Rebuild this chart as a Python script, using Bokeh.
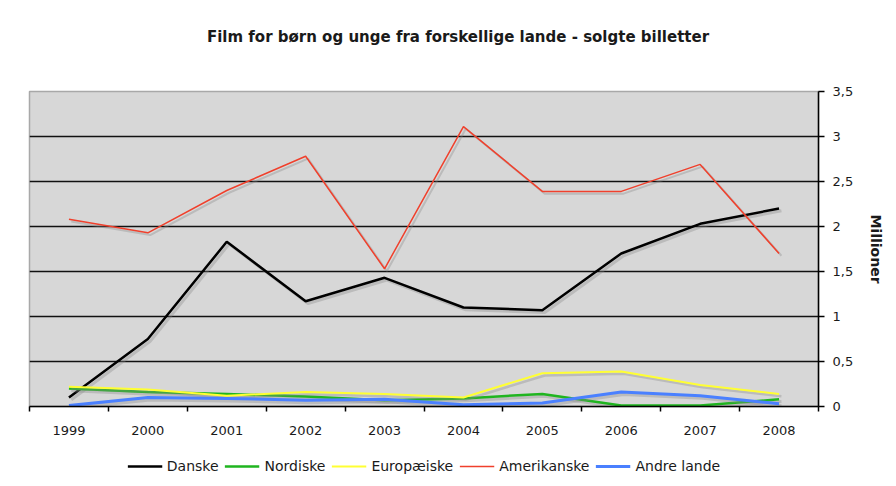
from bokeh.plotting import figure
from bokeh.layouts import column
from bokeh.models import FixedTicker, Legend, LegendItem, Range1d, ColumnDataSource, Label
from bokeh.transform import dodge
from bokeh.embed import file_html
from bokeh.resources import INLINE

title_text = "Film for børn og unge fra forskellige lande - solgte billetter"
years = ["1999", "2000", "2001", "2002", "2003", "2004", "2005", "2006", "2007", "2008"]

danske = [0.10, 0.75, 1.83, 1.17, 1.43, 1.10, 1.07, 1.70, 2.03, 2.20]
nordiske = [0.20, 0.16, 0.14, 0.11, 0.07, 0.09, 0.14, 0.01, 0.01, 0.08]
europaeiske = [0.22, 0.19, 0.12, 0.16, 0.14, 0.10, 0.37, 0.39, 0.24, 0.14]
amerikanske = [2.08, 1.93, 2.40, 2.78, 1.53, 3.11, 2.39, 2.39, 2.69, 1.70]
andre = [0.01, 0.10, 0.09, 0.07, 0.08, 0.02, 0.04, 0.16, 0.12, 0.03]

series_names = ["Danske", "Nordiske", "Europæiske", "Amerikanske", "Andre lande"]
series_colors = ["#000000", "#1fb51f", "#ffff33", "#f0402c", "#4a80ff"]
series_widths = [2.5, 2.5, 2, 1.5, 3]

y_ticks = [0, 0.5, 1, 1.5, 2, 2.5, 3, 3.5]
y_tick_labels = ["0", "0,5", "1", "1,5", "2", "2,5", "3", "3,5"]
y_label = "Millioner"

FONT = "DejaVu Sans"
TXT = "#1a1a1a"
L, FW, R = 29, 789, 78

xs = list(range(len(years)))
src = ColumnDataSource(dict(x=xs, danske=danske, nordiske=nordiske,
                            europaeiske=europaeiske, amerikanske=amerikanske,
                            andre=andre))
cols = ["danske", "nordiske", "europaeiske", "amerikanske", "andre"]


def blank_fig(fh, y_range):
    f = figure(frame_width=FW, frame_height=fh, output_backend="svg",
               toolbar_location=None, x_axis_location=None, y_axis_location=None,
               x_range=Range1d(0, 1), y_range=y_range,
               min_border_left=L, min_border_right=R,
               min_border_top=0, min_border_bottom=0)
    f.title = None
    f.grid.visible = False
    f.outline_line_color = None
    f.background_fill_color = "white"
    f.border_fill_color = "white"
    return f


# ---- title strip ----
p0 = blank_fig(83, Range1d(0, 1))
p0.add_layout(Label(x=428.5, y=47, x_units="screen", y_units="screen",
                    text=title_text, text_align="center", text_baseline="middle",
                    text_font=FONT, text_font_size="15px", text_font_style="bold",
                    text_color=TXT))

# ---- main chart ----
p = figure(frame_width=FW, frame_height=315, output_backend="svg",
           toolbar_location=None,
           x_range=Range1d(-0.5, len(years) - 0.5), y_range=Range1d(0, 3.5),
           y_axis_location="right", min_border_left=L, min_border_right=R,
           min_border_top=8, min_border_bottom=40)
p.title = None

p.background_fill_color = "#d7d7d7"
p.border_fill_color = "white"
p.outline_line_color = "#a8a8a8"
p.outline_line_width = 1.5

p.xgrid.visible = False
p.ygrid.ticker = FixedTicker(ticks=y_ticks)
p.ygrid.grid_line_color = "#111111"
p.ygrid.grid_line_width = 1.5

xa = p.below[0]
xa.ticker = FixedTicker(ticks=xs, minor_ticks=[i - 0.5 for i in range(len(years) + 1)])
xa.major_label_overrides = {i: y for i, y in enumerate(years)}
xa.major_tick_line_color = None
xa.major_tick_out = 0
xa.minor_tick_line_color = "black"
xa.minor_tick_line_width = 1.5
xa.minor_tick_out = 5
xa.minor_tick_in = 0
xa.axis_line_color = "black"
xa.axis_line_width = 1.5
xa.major_label_text_font = FONT
xa.major_label_text_font_size = "13px"
xa.major_label_text_color = TXT
xa.major_label_standoff = 14

ya = p.right[0]
ya.ticker = FixedTicker(ticks=y_ticks)
ya.major_label_overrides = dict(zip(y_ticks, y_tick_labels))
ya.minor_tick_line_color = None
ya.major_tick_out = 6
ya.major_tick_in = 0
ya.major_tick_line_width = 1.5
ya.axis_line_color = "black"
ya.axis_line_width = 1.5
ya.major_label_text_font = FONT
ya.major_label_text_font_size = "13px"
ya.major_label_text_color = TXT
ya.major_label_standoff = 8
ya.axis_label = y_label
ya.axis_label_text_font = FONT
ya.axis_label_text_font_size = "14px"
ya.axis_label_text_font_style = "bold"
ya.axis_label_text_color = TXT
ya.axis_label_standoff = 12

for col, color, w in zip(cols, series_colors, series_widths):
    p.line(x=dodge("x", 0.03), y=dodge(col, -0.025),
           source=src, line_color="#888888", line_alpha=0.35, line_width=w + 0.5)
    p.line(x="x", y=col, source=src, line_color=color, line_width=w)

# ---- legend strip (its lines use the same data, kept outside the visible range) ----
p2 = blank_fig(40, Range1d(100, 101))
items = []
for col, name, color, w in zip(cols, series_names, series_colors, series_widths):
    r = p2.line(x="x", y=col, source=src, line_color=color, line_width=w)
    items.append(LegendItem(label=name, renderers=[r]))
legend = Legend(items=items, orientation="horizontal", location="center",
                border_line_color=None, background_fill_alpha=0,
                label_text_font=FONT, label_text_font_size="14px",
                label_text_color=TXT,
                glyph_width=35, glyph_height=14, label_standoff=5, spacing=6,
                padding=0, margin=0)
p2.add_layout(legend)

layout = column(p0, p, p2, spacing=0)
open("out.html", "w").write(file_html(layout, INLINE))
